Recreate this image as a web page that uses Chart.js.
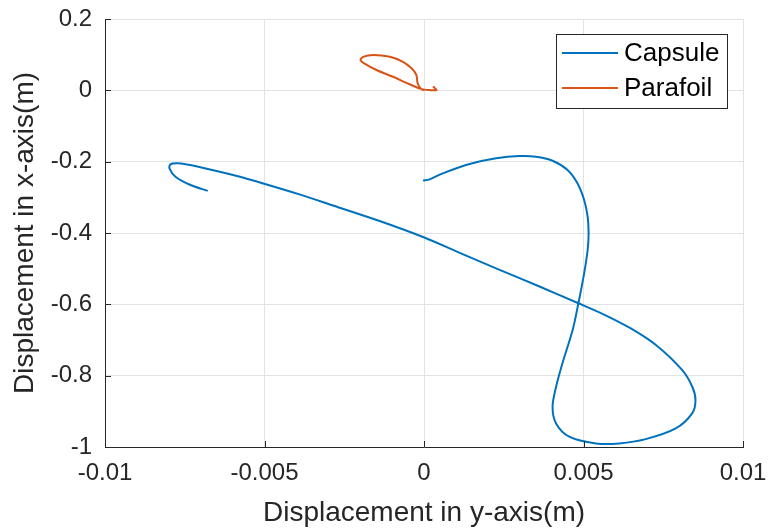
<!DOCTYPE html>
<html>
<head>
<meta charset="utf-8">
<script src="https://cdn.jsdelivr.net/npm/chart.js@4/dist/chart.umd.min.js"></script>
<style>
  html, body { margin: 0; padding: 0; background: #fff; }
  #wrap { width: 768px; height: 530px; }
</style>
</head>
<body>
<div id="wrap"><canvas id="trajChart" width="768" height="530"></canvas></div>
<script>
// trajectories: y-axis displacement (horizontal) vs x-axis displacement (vertical)
const capsuleY = [-0.00003, 0.00018, 0.00059, 0.00143, 0.00226, 0.00299, 0.00351, 0.00403, 0.0045, 0.00481,
  0.00502, 0.00513, 0.00516, 0.00513, 0.00502, 0.00484, 0.00466, 0.00434, 0.00414, 0.00403,
  0.00414, 0.00455, 0.00539, 0.00612, 0.00695, 0.00789, 0.00841, 0.00851, 0.00841, 0.00809,
  0.00728, 0.00647, 0.00566, 0.00484, 0.00362, 0.00237, 0.00112, -0.00001, -0.00139, -0.00285,
  -0.00388, -0.00504, -0.00586, -0.00691, -0.00743, -0.00774, -0.00795, -0.00798, -0.00779, -0.00732,
  -0.00678];
const capsuleX = [-0.253, -0.2495, -0.2327, -0.2066, -0.1907, -0.1842, -0.1861, -0.1974, -0.2234, -0.2607,
  -0.3075, -0.3543, -0.4009, -0.4477, -0.513, -0.597, -0.672, -0.765, -0.831, -0.887,
  -0.934, -0.971, -0.990, -0.990, -0.978, -0.948, -0.905, -0.868, -0.831, -0.784,
  -0.7146, -0.667, -0.6294, -0.597, -0.550, -0.5032, -0.4556, -0.412, -0.3664, -0.3229,
  -0.2923, -0.261, -0.2403, -0.2179, -0.208, -0.2047, -0.2075, -0.2187, -0.2422, -0.2655,
  -0.282];

const parafoilY = [0.0, -0.0001, -0.0002, -0.00024, -0.00039, -0.00066, -0.00107, -0.00159, -0.00191, -0.00199,
  -0.00185, -0.00149, -0.00097, -0.00055, -0.0001, 0.0002, 0.00039, 0.00033, 0.00028];
const parafoilX = [0.0, 0.005, 0.02, 0.043, 0.0617, 0.080, 0.094, 0.099, 0.094, 0.085,
  0.074, 0.057, 0.038, 0.021, 0.004, 0.0005, 0.0008, 0.007, 0.011];

const seriesNames = ['Capsule', 'Parafoil'];
const seriesColors = ['#0072BD', '#D95319'];

const xTicks = [-0.01, -0.005, 0, 0.005, 0.01];
const yTicks = [0.2, 0, -0.2, -0.4, -0.6, -0.8, -1];

const FONT = "'Liberation Sans', Arial, Helvetica, sans-serif";
const AXIS_COLOR = '#262626';

function toPoints(xs, ys) {
  return xs.map((v, i) => ({ x: v, y: ys[i] }));
}

// MATLAB-style inward ticks and a boxed legend
const axesExtras = {
  id: 'axesExtras',
  afterDatasetsDraw(chart) {
    const ctx = chart.ctx;
    const area = chart.chartArea;
    const xs = chart.scales.x;
    const ys = chart.scales.y;
    ctx.save();
    ctx.strokeStyle = AXIS_COLOR;
    ctx.lineWidth = 1;
    ctx.beginPath();
    xTicks.forEach(t => {
      const px = Math.round(xs.getPixelForValue(t)) + 0.5;
      ctx.moveTo(px, area.bottom);
      ctx.lineTo(px, area.bottom - 6);
    });
    yTicks.forEach(t => {
      const py = Math.round(ys.getPixelForValue(t)) + 0.5;
      ctx.moveTo(area.left, py);
      ctx.lineTo(area.left + 6, py);
    });
    ctx.stroke();

    // legend
    const lx = 556, ly = 34, lw = 171, lh = 74;
    ctx.fillStyle = '#fff';
    ctx.fillRect(lx, ly, lw, lh);
    ctx.strokeStyle = AXIS_COLOR;
    ctx.strokeRect(lx + 0.5, ly + 0.5, lw, lh);
    ctx.font = '26px ' + FONT;
    ctx.textBaseline = 'middle';
    ctx.textAlign = 'left';
    chart.data.datasets.forEach((ds, i) => {
      const rowY = ly + 19 + i * 35;
      ctx.strokeStyle = ds.borderColor;
      ctx.lineWidth = 2;
      ctx.beginPath();
      ctx.moveTo(lx + 6, rowY);
      ctx.lineTo(lx + 62, rowY);
      ctx.stroke();
      ctx.fillStyle = '#000';
      ctx.fillText(ds.label, lx + 68, rowY + 1);
    });
    ctx.restore();
  }
};

new Chart(document.getElementById('trajChart'), {
  type: 'scatter',
  data: {
    datasets: [
      {
        label: seriesNames[0],
        data: toPoints(capsuleY, capsuleX),
        borderColor: seriesColors[0],
        backgroundColor: seriesColors[0],
        showLine: true,
        borderWidth: 2,
        pointRadius: 0,
        tension: 0.3
      },
      {
        label: seriesNames[1],
        data: toPoints(parafoilY, parafoilX),
        borderColor: seriesColors[1],
        backgroundColor: seriesColors[1],
        showLine: true,
        borderWidth: 2,
        pointRadius: 0,
        tension: 0.3
      }
    ]
  },
  options: {
    responsive: false,
    animation: false,
    layout: { padding: 0 },
    plugins: {
      legend: { display: false },
      tooltip: { enabled: false }
    },
    scales: {
      x: {
        type: 'linear',
        min: -0.01,
        max: 0.01,
        afterBuildTicks(scale) { scale.ticks = xTicks.map(v => ({ value: v })); },
        afterFit(scale) {
          scale.height = 83;
          scale.paddingLeft = 0;
          scale.paddingRight = 25;
        },
        grid: { color: '#e3e3e3', drawTicks: false },
        border: { display: true, color: AXIS_COLOR, width: 1 },
        ticks: {
          padding: 12,
          color: AXIS_COLOR,
          font: { family: FONT, size: 24 },
          callback: v => String(v)
        },
        title: {
          display: true,
          text: 'Displacement in y-axis(m)',
          color: AXIS_COLOR,
          font: { family: FONT, size: 28 },
          padding: { top: 0, bottom: 0 }
        }
      },
      y: {
        type: 'linear',
        min: -1,
        max: 0.2,
        afterBuildTicks(scale) { scale.ticks = yTicks.map(v => ({ value: v })); },
        afterFit(scale) {
          scale.width = 105;
          scale.paddingTop = 19;
          scale.paddingBottom = 0;
        },
        grid: { color: '#e3e3e3', drawTicks: false },
        border: { display: true, color: AXIS_COLOR, width: 1 },
        ticks: {
          padding: 13,
          color: AXIS_COLOR,
          font: { family: FONT, size: 24 },
          callback: v => String(v)
        },
        title: {
          display: true,
          text: 'Displacement in x-axis(m)',
          color: AXIS_COLOR,
          font: { family: FONT, size: 28 },
          padding: { top: 8, bottom: 0 }
        }
      }
    }
  },
  plugins: [axesExtras]
});
</script>
</body>
</html>
